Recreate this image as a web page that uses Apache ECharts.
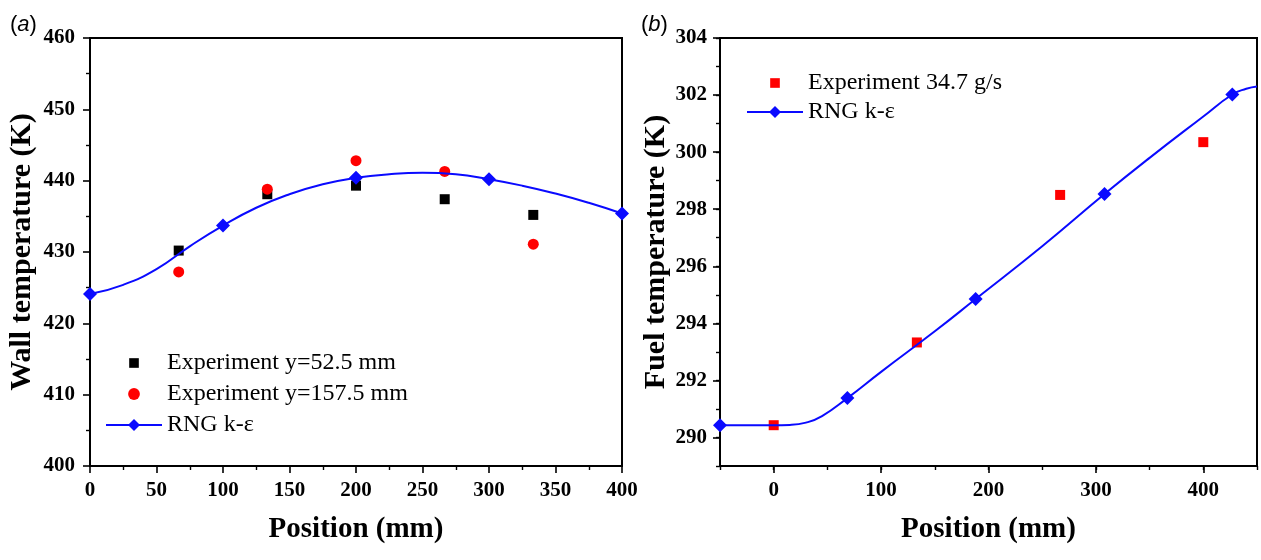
<!DOCTYPE html>
<html>
<head>
<meta charset="utf-8">
<script src="https://cdn.jsdelivr.net/npm/echarts@6/dist/echarts.min.js"></script>
<style>
  html, body { margin: 0; padding: 0; background: #fff; }
  #chart { width: 1261px; height: 560px; }
</style>
</head>
<body>
<div id="chart"></div>
<script>
// panel (a): wall temperature
const aExpX = [66.7, 133.3, 200, 266.7, 333.3];
const aExp1 = [430.2, 438.1, 439.3, 437.4, 435.2];   // y=52.5 mm
const aExp2 = [427.2, 438.8, 442.8, 441.3, 431.1];   // y=157.5 mm
const aCurveX = [0, 25, 50, 75, 100, 125, 150, 175, 200, 225, 250, 275, 300, 325, 350, 375, 400];
const aCurveY = [424.1, 425.4, 427.6, 430.8, 433.7, 436.2, 438.1, 439.5, 440.4, 440.9, 441.1, 440.9, 440.2, 439.3, 438.2, 436.9, 435.4];
const aMarkX = [0, 100, 200, 300, 400];

// panel (b): fuel temperature
const bExpX = [0, 133.3, 266.7, 400];
const bExpY = [290.43, 293.33, 298.5, 300.35];
const bCurveX = [-50, -25, 0, 15, 30, 45, 68.6, 100, 150, 188, 250, 308, 350, 400, 427, 440, 450];
const bCurveY = [290.43, 290.43, 290.43, 290.44, 290.52, 290.75, 291.38, 292.3, 293.72, 294.85, 296.7, 298.53, 299.8, 301.25, 302.02, 302.22, 302.3];
const bMarkX = [-50, 68.6, 188, 308, 427];
const bXLabels = [0, 100, 200, 300, 400];
const bYLabels = [290, 292, 294, 296, 298, 300, 302, 304];

const serif = 'Liberation Serif';
const blue = '#0a0aff';
// legend icons with some empty room around them so they stay small
const squareIcon = 'path://M0,0M14,14M2.5,2.5h9v9h-9z';
const circleIcon = 'path://M0,0M14,14M1.5,7a5.5,5.5 0 1,0 11,0a5.5,5.5 0 1,0 -11,0z';

function curveData(xs, ys, marks) {
  return xs.map((x, i) => ({
    value: [x, ys[i]],
    symbol: marks.includes(x) ? 'diamond' : 'none'
  }));
}

const axisText = { color: '#000', fontFamily: serif, fontWeight: 'bold', fontSize: 21 };
const xName = { color: '#000', fontFamily: serif, fontWeight: 'bold', fontSize: 29 };
const yName = { color: '#000', fontFamily: serif, fontWeight: 'bold', fontSize: 30 };
const line = { onZero: false, lineStyle: { color: '#000', width: 2 } };
const noLine = { show: false, onZero: false };
const major = { length: 7, lineStyle: { color: '#000', width: 1.6 } };
const minor = { show: true, splitNumber: 2, length: 4, lineStyle: { color: '#000', width: 1.4 } };
const panelRich = {
  n: { fontFamily: 'Liberation Sans', fontSize: 22, fill: '#000' },
  i: { fontFamily: 'Liberation Sans', fontSize: 22, fontStyle: 'italic', fill: '#000' }
};

const chart = echarts.init(document.getElementById('chart'));
chart.setOption({
  animation: false,
  graphic: [
    { type: 'text', left: 10, top: 14, style: { text: '{n|(}{i|a}{n|)}', rich: panelRich } },
    { type: 'text', left: 641, top: 14, style: { text: '{n|(}{i|b}{n|)}', rich: panelRich } }
  ],
  grid: [
    { left: 90, top: 38, width: 532, height: 428, show: true, borderColor: '#000', borderWidth: 2, outerBoundsMode: 'none' },
    { left: 720, top: 38, width: 537, height: 428, show: true, borderColor: '#000', borderWidth: 2, outerBoundsMode: 'none' }
  ],
  legend: [
    {
      left: 105, top: 351, padding: 0, orient: 'vertical', itemWidth: 56, itemHeight: 15, itemGap: 7,
      textStyle: { fontFamily: serif, fontSize: 24, color: '#000' },
      data: [
        { name: 'Experiment y=52.5 mm', icon: squareIcon },
        { name: 'Experiment y=157.5 mm', icon: circleIcon },
        'RNG k-ε'
      ]
    },
    {
      left: 746, top: 71, padding: 0, orient: 'vertical', itemWidth: 56, itemHeight: 15, itemGap: 5,
      textStyle: { fontFamily: serif, fontSize: 24, color: '#000' },
      data: [
        { name: 'Experiment 34.7 g/s', icon: squareIcon },
        'RNG k-ε '
      ]
    }
  ],
  xAxis: [
    {
      type: 'value', gridIndex: 0, position: 'bottom', min: 0, max: 400, interval: 50,
      name: 'Position (mm)', nameLocation: 'middle', nameGap: 49, nameTextStyle: xName,
      axisLine: line, axisTick: major, minorTick: minor,
      splitLine: { show: false },
      axisLabel: Object.assign({ margin: 14 }, axisText)
    },
    {
      type: 'value', gridIndex: 1, position: 'bottom', min: -50, max: 450, interval: 50,
      axisLine: line, axisTick: { length: 4, lineStyle: { color: '#000', width: 1.4 } },
      splitLine: { show: false },
      axisLabel: { show: false }
    },
    {
      type: 'value', gridIndex: 1, position: 'bottom', min: -50, max: 450,
      name: 'Position (mm)', nameLocation: 'middle', nameGap: 49, nameTextStyle: xName,
      axisLine: noLine,
      axisTick: Object.assign({ customValues: bXLabels }, major),
      splitLine: { show: false },
      axisLabel: Object.assign({ margin: 14, customValues: bXLabels }, axisText)
    }
  ],
  yAxis: [
    {
      type: 'value', gridIndex: 0, position: 'left', min: 400, max: 460, interval: 10,
      name: 'Wall temperature (K)', nameLocation: 'middle', nameGap: 53, nameTextStyle: yName,
      axisLine: line, axisTick: major, minorTick: minor,
      splitLine: { show: false },
      axisLabel: Object.assign({ margin: 15 }, axisText)
    },
    {
      type: 'value', gridIndex: 1, position: 'left', min: 289, max: 304, interval: 1,
      axisLine: line, axisTick: { length: 4, lineStyle: { color: '#000', width: 1.4 } },
      splitLine: { show: false },
      axisLabel: { show: false }
    },
    {
      type: 'value', gridIndex: 1, position: 'left', min: 289, max: 304,
      name: 'Fuel temperature (K)', nameLocation: 'middle', nameGap: 48, nameTextStyle: yName,
      axisLine: noLine,
      axisTick: Object.assign({ customValues: bYLabels }, major),
      splitLine: { show: false },
      axisLabel: Object.assign({ margin: 13, customValues: bYLabels }, axisText)
    }
  ],
  series: [
    {
      name: 'Experiment y=52.5 mm', type: 'scatter', xAxisIndex: 0, yAxisIndex: 0,
      symbol: 'rect', symbolSize: 10, itemStyle: { color: '#000', opacity: 1 },
      data: aExpX.map((x, i) => [x, aExp1[i]])
    },
    {
      name: 'Experiment y=157.5 mm', type: 'scatter', xAxisIndex: 0, yAxisIndex: 0,
      symbol: 'circle', symbolSize: 11, itemStyle: { color: '#ff0000', opacity: 1 },
      data: aExpX.map((x, i) => [x, aExp2[i]])
    },
    {
      name: 'RNG k-ε', type: 'line', xAxisIndex: 0, yAxisIndex: 0,
      smooth: 0.5, showAllSymbol: true,
      symbol: 'diamond', symbolSize: 14,
      lineStyle: { color: blue, width: 2 }, itemStyle: { color: blue },
      data: curveData(aCurveX, aCurveY, aMarkX)
    },
    {
      name: 'Experiment 34.7 g/s', type: 'scatter', xAxisIndex: 1, yAxisIndex: 1,
      symbol: 'rect', symbolSize: 10, itemStyle: { color: '#ff0000', opacity: 1 },
      data: bExpX.map((x, i) => [x, bExpY[i]])
    },
    {
      name: 'RNG k-ε ', type: 'line', xAxisIndex: 1, yAxisIndex: 1,
      smooth: 0.5, showAllSymbol: true,
      symbol: 'diamond', symbolSize: 14,
      lineStyle: { color: blue, width: 2 }, itemStyle: { color: blue },
      data: curveData(bCurveX, bCurveY, bMarkX)
    }
  ]
});
</script>
</body>
</html>
